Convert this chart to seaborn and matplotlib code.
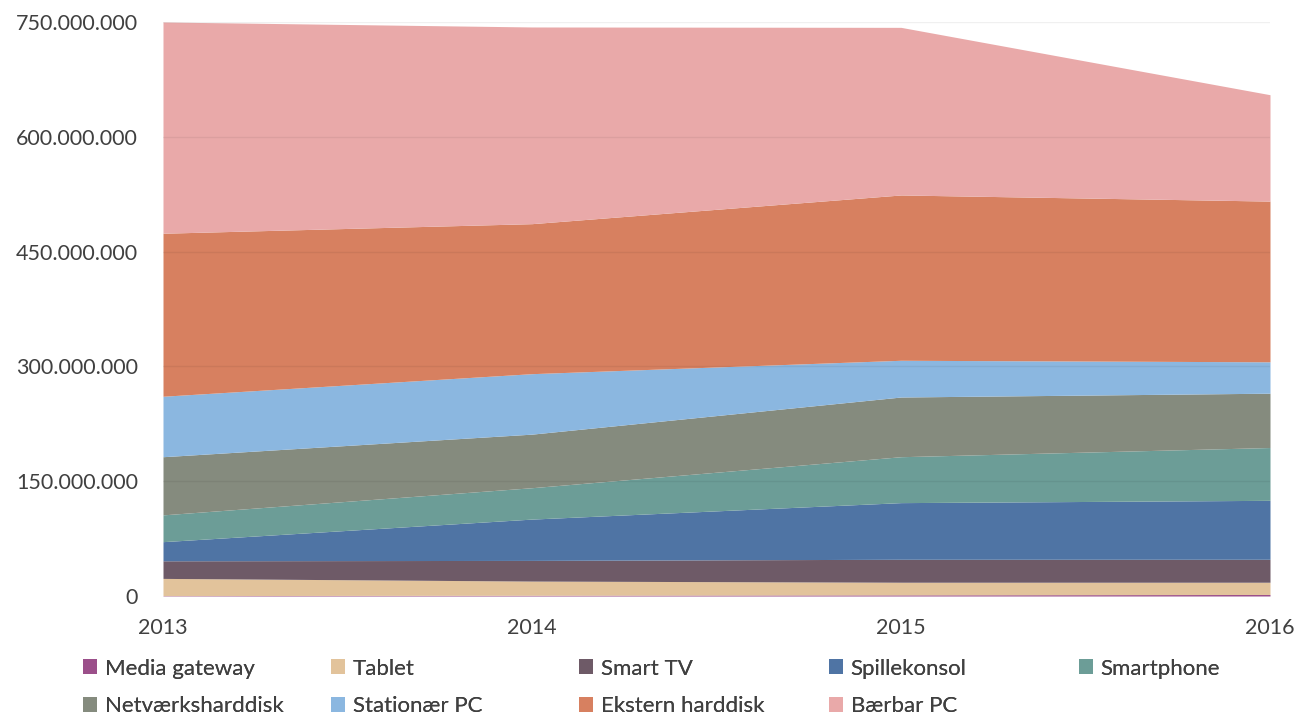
import numpy as np
import pandas as pd
import matplotlib
matplotlib.use("Agg")
import matplotlib.pyplot as plt
import seaborn as sns
from matplotlib.ticker import FuncFormatter, MultipleLocator
from matplotlib.patches import Patch

years = [2013, 2014, 2015, 2016]
series_names = ["Media gateway", "Tablet", "Smart TV", "Spillekonsol", "Smartphone",
                "Netværksharddisk", "Stationær PC", "Ekstern harddisk", "Bærbar PC"]
media_gateway = [0.5e6, 1.0e6, 1.5e6, 2.0e6]
tablet = [22.5e6, 18.5e6, 16.5e6, 16e6]
smart_tv = [23e6, 27e6, 30e6, 30e6]
spillekonsol = [25e6, 54e6, 74e6, 77e6]
smartphone = [35e6, 41e6, 60e6, 69e6]
netvaerk = [76e6, 70e6, 78e6, 71e6]
stationaer = [79e6, 79e6, 48e6, 41e6]
ekstern = [213e6, 196e6, 216e6, 210e6]
baerbar = [276e6, 257e6, 219e6, 139e6]

colors = ["#9B4F8A", "#E2C39B", "#6E5A67", "#4F74A4", "#6C9D97",
          "#858B7E", "#8BB7E0", "#D78060", "#E9A9A9"]

df = pd.DataFrame({"year": years})
for name, vals in zip(series_names, [media_gateway, tablet, smart_tv, spillekonsol, smartphone,
                                      netvaerk, stationaer, ekstern, baerbar]):
    df[name] = vals

sns.set_theme(style="white")
plt.rcParams['font.family'] = ['Lato', 'DejaVu Sans']
txt = "#404040"

fig = plt.figure(figsize=(12.97, 7.19), dpi=100)
ax = fig.add_axes([163/1297, 1-596/719, (1270-163)/1297, (596-22)/719])

ax.stackplot(df["year"], [df[n] for n in series_names], colors=colors, labels=series_names,
             linewidth=0)
for v in range(150_000_000, 750_000_001, 150_000_000):
    ax.axhline(v, color="#000000", alpha=0.06, lw=1, zorder=5)

ax.set_xlim(2013, 2016)
ax.set_ylim(0, 750_000_000)
ax.yaxis.set_major_locator(MultipleLocator(150_000_000))
ax.yaxis.set_major_formatter(FuncFormatter(lambda v, p: f"{int(v):,}".replace(",", ".")))
ax.set_xticks(years)
ax.tick_params(axis="both", length=0, labelsize=15.5, colors=txt)
ax.tick_params(axis="y", pad=18)
ax.tick_params(axis="x", pad=16)
for s in ax.spines.values():
    s.set_visible(False)
ax.set_xlabel("")
ax.set_ylabel("")

handles = [Patch(facecolor=c, edgecolor="none") for c in colors]
col_x = [67, 315, 563, 813, 1063]
columns = [[0, 5], [1, 6], [2, 7], [3, 8], [4]]
for cx, idxs in zip(col_x, columns):
    leg = fig.legend([handles[i] for i in idxs], [series_names[i] for i in idxs],
                     ncol=1, loc="upper left", bbox_to_anchor=(cx/1297, 1-643/719),
                     frameon=False, fontsize=16, handlelength=0.65, handleheight=0.65,
                     handletextpad=0.35, labelspacing=0.78, borderpad=0.2)
    for t in leg.get_texts():
        t.set_color(txt)
    fig.add_artist(leg)

fig.savefig("out.png", dpi=100)
